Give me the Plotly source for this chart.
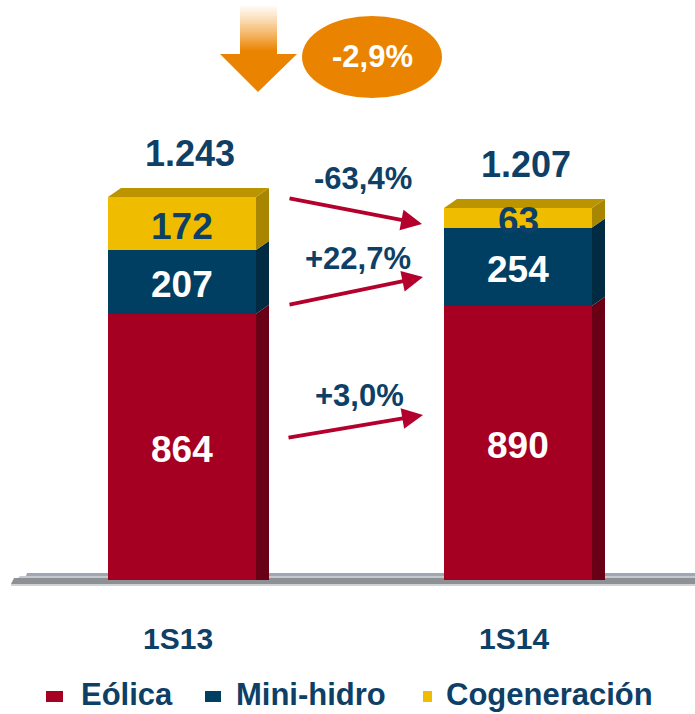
import plotly.graph_objects as go

# ---------------- data ----------------
categories = ["1S13", "1S14"]
series_names = ["Eólica", "Mini-hidro", "Cogeneración"]
eolica = [864, 890]
minihidro = [207, 254]
cogeneracion = [172, 63]
totals = [1243, 1207]
total_labels = ["1.243", "1.207"]
change_labels = ["-63,4%", "+22,7%", "+3,0%"]
total_change_label = "-2,9%"

# ---------------- styling / layout constants ----------------
W, H = 695, 714
X0_PX = 182          # pixel centre of first category
CAT_PX = 336         # pixel distance between categories
BASE_PX = 580        # pixel row of the zero line
UNIT_PX = 0.3081     # pixels per unit
BAR_PX = 148
DX_PX, DY_PX = 13, 9  # 3D depth offsets

FONT = "Arial, Liberation Sans, sans-serif"
NAVY = "#0E3F66"
front = ["#A50021", "#003F62", "#F0BC00"]
side = ["#6A0016", "#002B42", "#A88600"]
top_face = "#BB9400"
ORANGE = "#EA8400"
ARROW_RED = "#B3002D"

xr_ = [(0 - X0_PX) / CAT_PX, (W - X0_PX) / CAT_PX]
yr_ = [-(H - BASE_PX) / UNIT_PX, BASE_PX / UNIT_PX]
bw = BAR_PX / CAT_PX
dx = DX_PX / CAT_PX
dy = DY_PX / UNIT_PX


def px(x):
    return x / W


def py(y):
    return 1 - y / H


xs = list(range(len(categories)))
series = [eolica, minihidro, cogeneracion]

fig = go.Figure()
for name, vals, col in zip(series_names, series, front):
    fig.add_trace(go.Bar(x=xs, y=vals, name=name, marker=dict(color=col, line=dict(width=0)),
                         width=bw, showlegend=False, hoverinfo="skip"))

shapes = []
# floor
def poly(pts, color, layer="below"):
    d = "M " + " L ".join(f"{px(a)},{py(b)}" for a, b in pts) + " Z"
    return dict(type="path", xref="paper", yref="paper", layer=layer, path=d,
                fillcolor=color, line=dict(width=0))

shapes.append(poly([(27, 573), (695, 573), (695, 576), (26, 576)], "#9EA8B3"))
shapes.append(poly([(20, 576), (695, 576), (695, 578), (18, 578)], "#C4C9CE"))
shapes.append(poly([(14, 578), (695, 578), (695, 584), (11, 584)], "#8D9196"))
shapes.append(poly([(11, 584), (695, 584), (695, 586), (11, 586)], "#D2D2D2"))

# 3D side / top faces computed from data
for i, x in enumerate(xs):
    xl, xrr = x - bw / 2, x + bw / 2
    base = 0
    for k, vals in enumerate(series):
        b, t = base, base + vals[i]
        bb = b + dy if k > 0 else 0
        shapes.append(dict(type="path", xref="x", yref="y", layer="below",
                           path=f"M {xrr},{b} L {xrr + dx},{bb} L {xrr + dx},{t + dy} L {xrr},{t} Z",
                           fillcolor=side[k], line=dict(width=0)))
        base = t
    shapes.append(dict(type="path", xref="x", yref="y", layer="below",
                       path=f"M {xl},{base} L {xl + dx},{base + dy} L {xrr + dx},{base + dy} L {xrr},{base} Z",
                       fillcolor=top_face, line=dict(width=0)))

# orange down arrow with gradient shaft
def mix(t):
    c1 = (255, 255, 255)
    c2 = (0xEA, 0x84, 0x00)
    return "rgb(%d,%d,%d)" % tuple(round(a + (b - a) * t) for a, b in zip(c1, c2))

y = 6
while y < 56:
    t = min(1.0, max(0.0, (y - 2) / 48)) ** 1.2
    shapes.append(dict(type="rect", xref="paper", yref="paper",
                       x0=px(240), x1=px(277), y0=py(y), y1=py(y + 2.2),
                       fillcolor=mix(t), line=dict(width=0)))
    y += 2
shapes.append(poly([(220, 54), (297, 54), (258, 92)], ORANGE, layer="above"))
shapes.append(dict(type="circle", xref="paper", yref="paper",
                   x0=px(302), x1=px(442), y0=py(98), y1=py(16),
                   fillcolor=ORANGE, line=dict(width=0)))

# legend squares
for (x0, x1), col in zip([(46, 63), (205, 221), (423, 432)], front):
    shapes.append(dict(type="rect", xref="paper", yref="paper",
                       x0=px(x0), x1=px(x1), y0=py(702), y1=py(691),
                       fillcolor=col, line=dict(width=0)))

ann = []
# segment labels
label_colors = ["white", "white", NAVY]
for i, x in enumerate(xs):
    base = 0
    for k, vals in enumerate(series):
        mid = base + vals[i] / 2
        ann.append(dict(x=x, y=mid, xref="x", yref="y", text=f"<b>{vals[i]}</b>", showarrow=False,
                        xanchor="center", yanchor="middle",
                        font=dict(family=FONT, size=37, color=label_colors[k]), yshift=-3))
        base += vals[i]
    ann.append(dict(x=x + dx / 2 + 0.005, y=totals[i], xref="x", yref="y", text=f"<b>{total_labels[i]}</b>",
                    showarrow=False, xanchor="center", yanchor="bottom", yshift=21,
                    font=dict(family=FONT, size=36, color=NAVY)))
    ann.append(dict(x=x - 0.012, y=py(636), xref="x", yref="paper", text=f"<b>{categories[i]}</b>",
                    showarrow=False, xanchor="center", yanchor="middle",
                    font=dict(family=FONT, size=30, color=NAVY), yshift=-2))

# change arrows and labels
arrows = [((288, 198), (422, 224)), ((288, 305), (423, 277)), ((287, 438), (423, 415))]
label_pos = [(363, 176), (358, 256), (359, 393)]
for (tail, tip), lab, (lx, ly) in zip(arrows, change_labels, label_pos):
    ann.append(dict(x=px(tip[0]), y=py(tip[1]), xref="paper", yref="paper",
                    ax=tail[0] - tip[0], ay=tail[1] - tip[1], axref="pixel", ayref="pixel",
                    showarrow=True, arrowhead=2, arrowsize=1.1, arrowwidth=3.8,
                    arrowcolor=ARROW_RED, text="", standoff=0))
    ann.append(dict(x=px(lx), y=py(ly), xref="paper", yref="paper", text=f"<b>{lab}</b>",
                    showarrow=False, xanchor="center", yanchor="middle", yshift=-2,
                    font=dict(family=FONT, size=31, color=NAVY)))

ann.append(dict(x=px(372), y=py(55), xref="paper", yref="paper", text=f"<b>{total_change_label}</b>",
                showarrow=False, xanchor="center", yanchor="middle", yshift=-2,
                font=dict(family=FONT, size=31, color="white")))

# legend text
for name, x0 in zip(series_names, [79, 234, 444]):
    ann.append(dict(x=px(x0), y=0, xref="paper", yref="paper", text=f"<b>{name}</b>",
                    showarrow=False, xanchor="left", yanchor="bottom",
                    font=dict(family=FONT, size=31, color=NAVY)))

fig.update_layout(
    width=W, height=H, margin=dict(l=0, r=0, t=0, b=0),
    paper_bgcolor="white", plot_bgcolor="rgba(0,0,0,0)",
    barmode="stack", bargap=0,
    xaxis=dict(range=xr_, visible=False, fixedrange=True),
    yaxis=dict(range=yr_, visible=False, fixedrange=True),
    shapes=shapes, annotations=ann, showlegend=False,
)

fig.write_html("out.html", config={"displayModeBar": False},
               post_script="document.body.style.margin='0px';document.body.style.overflow='hidden';")
